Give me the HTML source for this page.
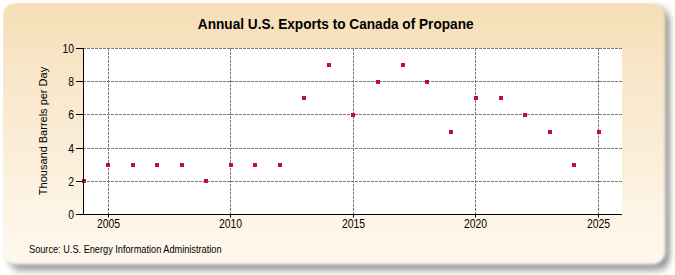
<!DOCTYPE html>
<html><head><meta charset="utf-8"><style>
html,body{margin:0;padding:0;background:#fff;width:675px;height:275px;overflow:hidden}
svg{display:block}
text{font-family:"Liberation Sans",sans-serif}
</style></head><body>
<svg width="675" height="275" viewBox="0 0 675 275">
<defs>
<linearGradient id="bg" gradientUnits="userSpaceOnUse" x1="0" y1="3" x2="0" y2="264">
<stop offset="0" stop-color="#F6DEB5"/>
<stop offset="0.25" stop-color="#F8E6C8"/>
<stop offset="0.5" stop-color="#FAEBD4"/>
<stop offset="0.75" stop-color="#FDF3E3"/>
<stop offset="1" stop-color="#FFF8EE"/>
</linearGradient>
<filter id="sh" x="-10%" y="-20%" width="120%" height="140%">
<feGaussianBlur stdDeviation="3 4"/>
</filter>
<filter id="soft" x="-5%" y="-10%" width="110%" height="120%">
<feGaussianBlur stdDeviation="1.5"/>
</filter>
<clipPath id="clipA"><rect x="3.3" y="3.6" width="672" height="272"/></clipPath>
</defs>
<rect x="9" y="9" width="660.5" height="260.5" rx="12" ry="12" fill="#888888" filter="url(#sh)"/>
<g clip-path="url(#clipA)"><rect x="3.3" y="3.6" width="662.2" height="260.9" rx="13" ry="13" fill="url(#bg)" filter="url(#soft)"/></g>
<rect x="3.3" y="3.6" width="658.7" height="257.4" rx="12" ry="12" fill="url(#bg)"/>
<text transform="translate(335.7,28.8) scale(1,1.06)" text-anchor="middle" font-size="13.65" font-weight="bold" fill="#000">Annual U.S. Exports to Canada of Propane</text>
<rect x="84" y="48" width="538" height="166" fill="#fff"/>
<g stroke="#7a7a7a" stroke-width="1" stroke-dasharray="3 1" fill="none">
<line x1="83" y1="181.5" x2="622" y2="181.5"/><line x1="83" y1="148.5" x2="622" y2="148.5"/><line x1="83" y1="114.5" x2="622" y2="114.5"/><line x1="83" y1="81.5" x2="622" y2="81.5"/><line x1="83" y1="48.5" x2="622" y2="48.5"/><line x1="108.5" y1="48" x2="108.5" y2="214"/><line x1="230.5" y1="48" x2="230.5" y2="214"/><line x1="353.5" y1="48" x2="353.5" y2="214"/><line x1="475.5" y1="48" x2="475.5" y2="214"/><line x1="598.5" y1="48" x2="598.5" y2="214"/>
</g>
<g fill="#000" font-size="12.4">
<text transform="translate(74,218.5) scale(0.84,1)" text-anchor="end">0</text><text transform="translate(74,185.5) scale(0.84,1)" text-anchor="end">2</text><text transform="translate(74,152.5) scale(0.84,1)" text-anchor="end">4</text><text transform="translate(74,118.5) scale(0.84,1)" text-anchor="end">6</text><text transform="translate(74,85.5) scale(0.84,1)" text-anchor="end">8</text><text transform="translate(74,52.5) scale(0.84,1)" text-anchor="end">10</text>
<text transform="translate(108.5,227.5) scale(0.84,1)" text-anchor="middle">2005</text><text transform="translate(230.5,227.5) scale(0.84,1)" text-anchor="middle">2010</text><text transform="translate(353.5,227.5) scale(0.84,1)" text-anchor="middle">2015</text><text transform="translate(475.5,227.5) scale(0.84,1)" text-anchor="middle">2020</text><text transform="translate(598.5,227.5) scale(0.84,1)" text-anchor="middle">2025</text>
</g>
<g stroke="#000" stroke-width="1">
<line x1="76" y1="214.5" x2="84" y2="214.5"/><line x1="76" y1="181.5" x2="84" y2="181.5"/><line x1="76" y1="148.5" x2="84" y2="148.5"/><line x1="76" y1="114.5" x2="84" y2="114.5"/><line x1="76" y1="81.5" x2="84" y2="81.5"/><line x1="76" y1="48.5" x2="84" y2="48.5"/>
<line x1="108.5" y1="214" x2="108.5" y2="217.5"/><line x1="230.5" y1="214" x2="230.5" y2="217.5"/><line x1="353.5" y1="214" x2="353.5" y2="217.5"/><line x1="475.5" y1="214" x2="475.5" y2="217.5"/><line x1="598.5" y1="214" x2="598.5" y2="217.5"/>
</g>
<g fill="#C3102C">
<rect x="82" y="179" width="4" height="4"/><rect x="106" y="163" width="4" height="4"/><rect x="131" y="163" width="4" height="4"/><rect x="155" y="163" width="4" height="4"/><rect x="180" y="163" width="4" height="4"/><rect x="204" y="179" width="4" height="4"/><rect x="229" y="163" width="4" height="4"/><rect x="253" y="163" width="4" height="4"/><rect x="278" y="163" width="4" height="4"/><rect x="302" y="96" width="4" height="4"/><rect x="327" y="63" width="4" height="4"/><rect x="351" y="113" width="4" height="4"/><rect x="376" y="80" width="4" height="4"/><rect x="401" y="63" width="4" height="4"/><rect x="425" y="80" width="4" height="4"/><rect x="449" y="130" width="4" height="4"/><rect x="474" y="96" width="4" height="4"/><rect x="499" y="96" width="4" height="4"/><rect x="523" y="113" width="4" height="4"/><rect x="548" y="130" width="4" height="4"/><rect x="572" y="163" width="4" height="4"/><rect x="597" y="130" width="4" height="4"/>
</g>
<g stroke="#000" stroke-width="1" fill="none">
<line x1="83.5" y1="48" x2="83.5" y2="214.5"/>
<line x1="76" y1="214.5" x2="622" y2="214.5"/>
</g>
<text transform="translate(47,131) rotate(-90) scale(1,1.05)" text-anchor="middle" font-size="11" fill="#000">Thousand Barrels per Day</text>
<text transform="translate(29,252.8) scale(1,1.1)" font-size="9.2" fill="#000">Source: U.S. Energy Information Administration</text>
</svg>
</body></html>
